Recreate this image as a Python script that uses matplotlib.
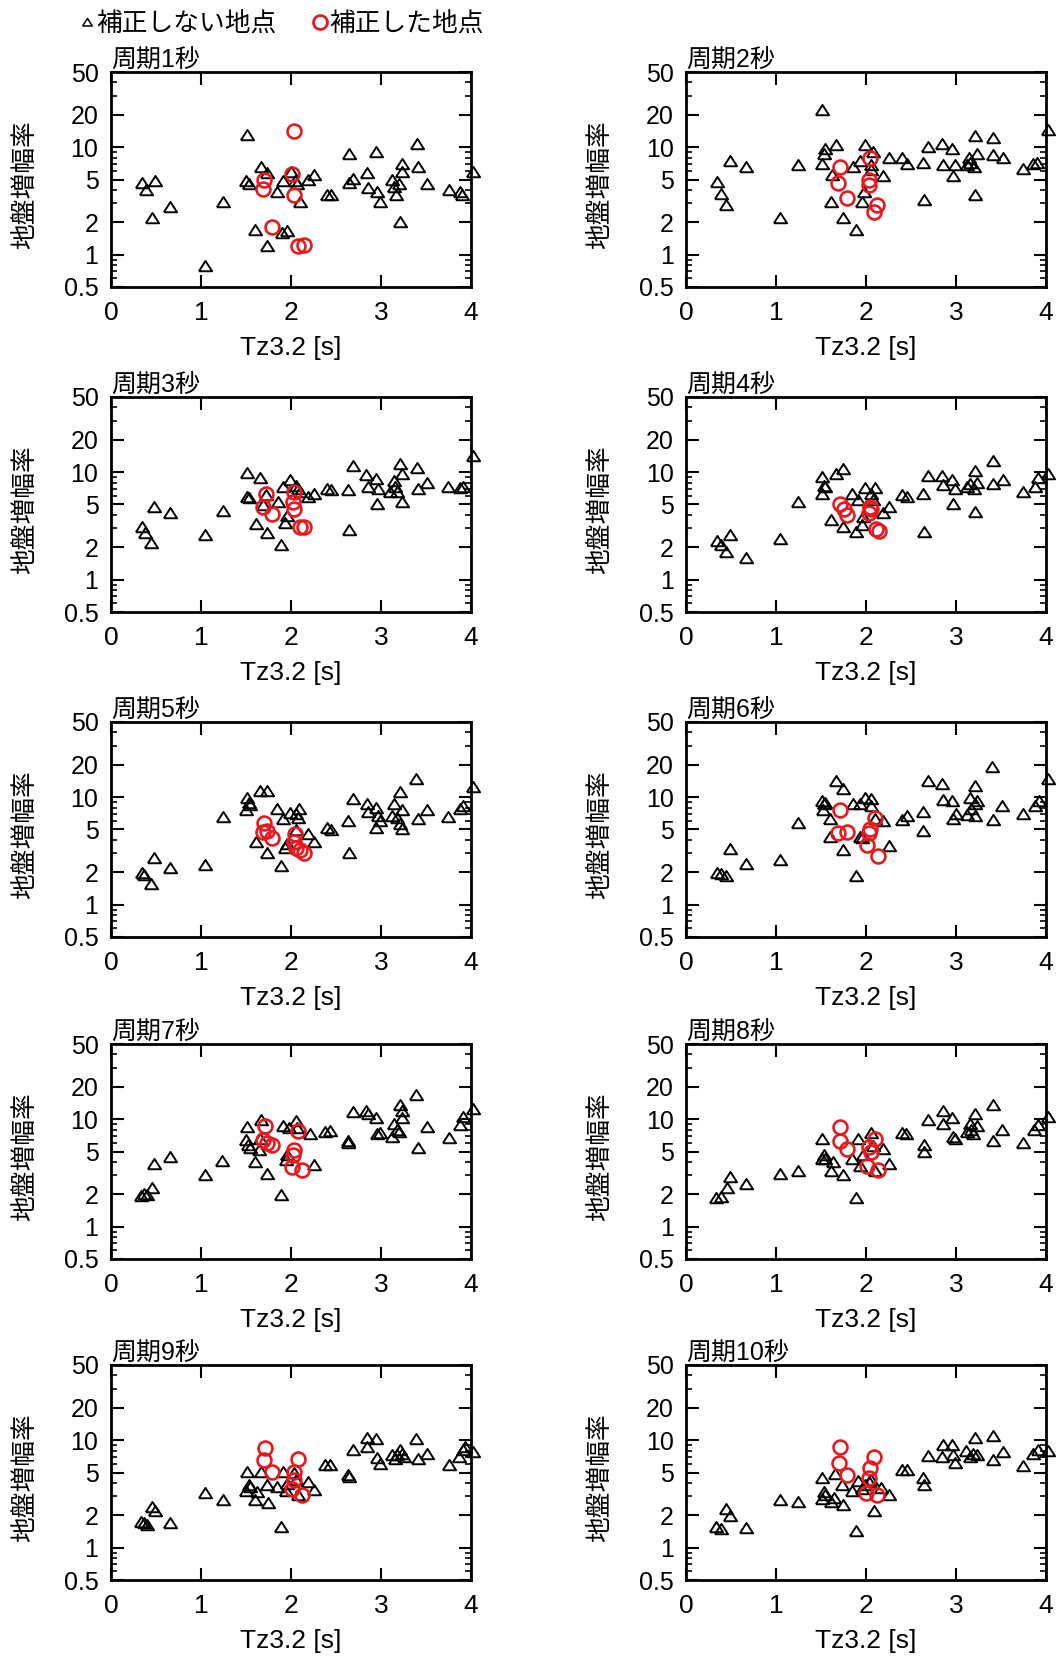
import numpy as np
import matplotlib
matplotlib.use('Agg')
import matplotlib.pyplot as plt
from matplotlib.lines import Line2D
from matplotlib.ticker import LogLocator, NullFormatter, NullLocator

plt.rcParams['font.family'] = ['Liberation Sans', 'Noto Sans CJK JP']

# (Tz3.2, amplification) for uncorrected sites (tri) and corrected sites (cir)
p1_tri = [(0.34, 4.6), (0.39, 4.0), (0.49, 4.8), (0.45, 2.2), (0.66, 2.8), (1.04, 0.78), (1.24, 3.1),
          (1.51, 13.0), (1.50, 4.8), (1.53, 4.5), (1.60, 1.7), (1.67, 6.6), (1.73, 5.7), (1.73, 1.2),
          (1.84, 3.8), (1.91, 4.8), (1.90, 1.6), (1.95, 1.65), (2.00, 5.9), (2.04, 4.8), (2.07, 4.5),
          (2.10, 3.1), (2.19, 4.9), (2.25, 5.5), (2.40, 3.6), (2.44, 3.6), (2.64, 8.6), (2.64, 4.6),
          (2.69, 5.1), (2.84, 5.7), (2.86, 4.2), (2.94, 9.0), (2.96, 3.8), (2.99, 3.1), (3.12, 4.9),
          (3.14, 4.3), (3.17, 3.6), (3.20, 4.5), (3.23, 7.0), (3.23, 5.9), (3.21, 2.0), (3.40, 10.6),
          (3.41, 6.6), (3.51, 4.5), (3.75, 4.0), (3.88, 3.8), (3.90, 3.6), (4.02, 5.9)]
p1_cir = [(2.03, 14.1), (1.70, 4.9), (1.69, 4.1), (2.01, 5.6), (2.03, 3.6), (1.79, 1.8), (2.08, 1.2),
          (2.14, 1.23)]

p2_tri = [(0.34, 4.7), (0.39, 3.7), (0.44, 2.9), (0.49, 7.4), (0.67, 6.5), (1.04, 2.2), (1.24, 6.8),
          (1.51, 22.0), (1.54, 9.7), (1.53, 8.6), (1.51, 7.0), (1.62, 5.5), (1.61, 3.1), (1.67, 10.4),
          (1.74, 2.2), (1.86, 6.6), (1.89, 1.7), (1.93, 7.4), (1.99, 10.4), (1.95, 3.1), (1.98, 3.8),
          (2.06, 6.8), (2.08, 9.0), (2.06, 6.1), (2.19, 5.4), (2.25, 7.9), (2.40, 7.9), (2.45, 7.0),
          (2.63, 7.1), (2.64, 3.2), (2.69, 10.0), (2.84, 10.7), (2.86, 6.8), (2.95, 9.6), (2.97, 5.4),
          (2.99, 6.8), (3.12, 6.8), (3.14, 7.9), (3.16, 7.1), (3.20, 6.6), (3.21, 12.8), (3.23, 8.7),
          (3.21, 3.6), (3.41, 12.2), (3.41, 8.4), (3.52, 7.9), (3.74, 6.3), (3.86, 6.9), (3.90, 7.1),
          (4.02, 14.3)]
p2_cir = [(1.71, 6.6), (1.69, 4.6), (1.79, 3.4), (2.04, 7.9), (2.03, 4.9), (2.03, 4.4), (2.12, 2.9),
          (2.09, 2.5)]

p3_tri = [(0.34, 3.1), (0.38, 2.7), (0.44, 2.2), (0.48, 4.7), (0.66, 4.2), (1.04, 2.6), (1.24, 4.35),
          (1.51, 9.9), (1.51, 5.9), (1.53, 5.8), (1.66, 8.9), (1.72, 6.1), (1.61, 3.3), (1.73, 2.7),
          (1.69, 4.9), (1.85, 5.3), (1.89, 2.1), (1.91, 7.2), (1.99, 8.4), (1.93, 3.4), (1.96, 3.9),
          (2.06, 7.5), (2.08, 7.0), (2.10, 6.5), (2.19, 5.9), (2.25, 6.3), (2.40, 7.0), (2.44, 6.8),
          (2.63, 6.8), (2.64, 2.9), (2.69, 11.3), (2.83, 9.5), (2.86, 7.2), (2.94, 8.6), (2.97, 7.0),
          (2.95, 5.1), (3.10, 6.5), (3.14, 8.2), (3.16, 7.2), (3.18, 6.6), (3.21, 12.0), (3.23, 9.7),
          (3.23, 5.3), (3.40, 11.0), (3.41, 7.0), (3.51, 7.9), (3.74, 7.3), (3.88, 7.1), (3.91, 7.3),
          (4.02, 14.1)]
p3_cir = [(1.72, 6.3), (1.69, 4.7), (1.79, 4.1), (2.03, 6.5), (2.02, 5.3), (2.03, 4.5), (2.10, 3.1),
          (2.14, 3.1)]

p4_tri = [(0.34, 2.3), (0.39, 2.1), (0.44, 1.8), (0.49, 2.6), (0.67, 1.6), (1.04, 2.4), (1.24, 5.3),
          (1.51, 9.0), (1.53, 7.5), (1.54, 7.2), (1.51, 6.3), (1.61, 3.6), (1.67, 9.7), (1.74, 10.6),
          (1.74, 3.1), (1.84, 6.3), (1.89, 2.8), (1.91, 5.5), (1.99, 7.1), (1.95, 3.2), (1.97, 3.8),
          (2.06, 6.3), (2.10, 7.1), (2.08, 5.5), (2.19, 4.2), (2.25, 4.7), (2.40, 6.1), (2.45, 5.9),
          (2.63, 6.3), (2.64, 2.8), (2.69, 9.3), (2.84, 9.3), (2.86, 7.6), (2.95, 8.5), (2.97, 5.0),
          (2.99, 7.0), (3.12, 7.3), (3.16, 7.8), (3.20, 7.0), (3.21, 10.3), (3.23, 8.0), (3.21, 4.3),
          (3.41, 12.6), (3.41, 7.8), (3.52, 8.5), (3.74, 6.6), (3.88, 7.3), (3.91, 8.9), (4.02, 9.7)]
p4_cir = [(1.71, 5.0), (1.75, 4.5), (1.79, 4.0), (2.04, 4.7), (2.03, 4.2), (2.06, 4.5), (2.11, 2.96),
          (2.14, 2.85)]

p5_tri = [(0.34, 1.97), (0.37, 1.9), (0.44, 1.55), (0.48, 2.7), (0.66, 2.2), (1.04, 2.35), (1.24, 6.6),
          (1.51, 9.8), (1.53, 8.8), (1.54, 8.4), (1.50, 7.6), (1.66, 11.5), (1.73, 11.5), (1.61, 3.8),
          (1.73, 3.0), (1.84, 7.8), (1.89, 2.3), (1.91, 6.2), (1.99, 7.1), (1.96, 3.7), (1.93, 3.4),
          (2.06, 6.9), (2.08, 6.4), (2.09, 7.8), (2.06, 4.9), (2.19, 4.5), (2.25, 3.8), (2.40, 5.2),
          (2.44, 4.9), (2.63, 6.0), (2.64, 3.0), (2.69, 9.6), (2.84, 8.6), (2.86, 7.2), (2.94, 8.0),
          (2.97, 6.7), (2.94, 5.2), (2.99, 6.0), (3.12, 6.7), (3.14, 8.6), (3.18, 6.4), (3.21, 11.2),
          (3.23, 7.6), (3.21, 5.6), (3.23, 5.0), (3.39, 14.6), (3.41, 6.2), (3.51, 7.6), (3.74, 6.5),
          (3.88, 7.8), (3.91, 8.3), (4.02, 12.4)]
p5_cir = [(1.70, 5.8), (1.69, 4.7), (1.73, 4.85), (1.79, 4.2), (2.04, 4.5), (2.03, 3.8), (2.06, 3.4),
          (2.10, 3.2), (2.14, 3.0)]

p6_tri = [(0.34, 1.98), (0.39, 1.92), (0.44, 1.85), (0.49, 3.3), (0.67, 2.4), (1.04, 2.6), (1.24, 5.7),
          (1.51, 9.2), (1.53, 8.6), (1.54, 8.9), (1.52, 7.6), (1.60, 6.2), (1.60, 4.3), (1.67, 14.0),
          (1.74, 12.0), (1.74, 3.2), (1.86, 8.6), (1.89, 1.85), (1.93, 8.6), (1.99, 9.8), (2.06, 9.7),
          (2.06, 8.3), (1.93, 4.3), (1.95, 4.2), (2.10, 6.2), (2.19, 6.0), (2.25, 3.5), (2.40, 6.1),
          (2.45, 6.7), (2.63, 7.2), (2.63, 4.8), (2.69, 14.0), (2.84, 13.3), (2.86, 9.5), (2.95, 9.2),
          (2.97, 6.2), (3.00, 7.0), (3.12, 6.8), (3.15, 9.9), (3.17, 7.7), (3.21, 8.6), (3.21, 6.7),
          (3.21, 12.8), (3.23, 9.2), (3.40, 19.0), (3.41, 6.1), (3.51, 8.3), (3.74, 7.0), (3.88, 8.3),
          (3.92, 9.3), (4.02, 14.6)]
p6_cir = [(1.71, 7.6), (1.69, 4.6), (1.79, 4.7), (2.10, 6.4), (2.04, 5.1), (2.03, 4.6), (2.01, 3.6),
          (2.13, 2.85)]

p7_tri = [(0.33, 1.94), (0.37, 2.0), (0.40, 1.97), (0.45, 2.3), (0.48, 3.8), (0.66, 4.4), (1.04, 3.0),
          (1.23, 4.1), (1.51, 8.5), (1.50, 6.4), (1.52, 5.7), (1.54, 5.4), (1.60, 4.0), (1.67, 9.9),
          (1.66, 6.5), (1.73, 3.1), (1.64, 5.2), (1.89, 1.97), (1.91, 8.7), (1.98, 8.2), (1.96, 4.6),
          (1.94, 4.2), (2.06, 9.6), (2.07, 8.2), (2.21, 7.2), (2.25, 3.75), (2.38, 7.6), (2.43, 7.8),
          (2.63, 6.3), (2.63, 6.0), (2.69, 11.6), (2.83, 11.8), (2.86, 11.2), (2.94, 10.2), (2.96, 7.3),
          (2.99, 7.5), (3.12, 6.8), (3.14, 9.1), (3.18, 7.9), (3.20, 7.6), (3.21, 13.4), (3.23, 11.8),
          (3.23, 10.2), (3.39, 16.8), (3.41, 5.4), (3.51, 8.4), (3.75, 6.7), (3.88, 8.8), (3.91, 10.4),
          (4.02, 12.3)]
p7_cir = [(1.71, 8.7), (1.69, 6.4), (1.73, 6.0), (1.79, 5.8), (2.08, 7.8), (2.03, 5.2), (2.02, 4.6),
          (2.01, 3.6), (2.12, 3.37)]

p8_tri = [(0.33, 1.84), (0.39, 1.87), (0.45, 2.3), (0.49, 2.9), (0.67, 2.5), (1.04, 3.1), (1.24, 3.3),
          (1.51, 6.6), (1.51, 4.3), (1.53, 4.6), (1.54, 4.3), (1.63, 4.0), (1.61, 3.3), (1.74, 3.0),
          (1.89, 1.84), (1.84, 4.3), (1.91, 6.6), (1.93, 3.7), (1.97, 4.6), (2.06, 7.5), (2.08, 5.6),
          (2.10, 3.3), (2.19, 5.3), (2.25, 3.8), (2.40, 7.5), (2.44, 7.2), (2.64, 5.8), (2.64, 5.0),
          (2.69, 9.9), (2.85, 11.9), (2.86, 9.0), (2.95, 10.3), (2.97, 6.8), (2.99, 6.6), (3.12, 7.6),
          (3.15, 9.0), (3.17, 8.0), (3.19, 7.2), (3.21, 11.2), (3.23, 8.7), (3.41, 13.4), (3.41, 6.2),
          (3.51, 7.9), (3.74, 6.0), (3.87, 7.9), (3.91, 8.9), (4.02, 10.4)]
p8_cir = [(1.71, 8.4), (1.71, 6.3), (1.79, 5.3), (2.10, 6.6), (2.03, 5.5), (2.06, 4.9), (2.01, 3.7),
          (2.13, 3.4)]

p9_tri = [(0.33, 1.74), (0.37, 1.68), (0.40, 1.62), (0.45, 2.4), (0.49, 2.2), (0.66, 1.68), (1.04, 3.2),
          (1.24, 2.8), (1.51, 5.1), (1.50, 3.4), (1.53, 3.8), (1.54, 3.7), (1.62, 3.3), (1.60, 2.75),
          (1.67, 5.1), (1.73, 3.8), (1.74, 2.6), (1.84, 3.7), (1.89, 1.57), (1.91, 5.1), (1.95, 3.9),
          (1.94, 3.4), (2.03, 4.9), (2.06, 4.3), (2.08, 3.1), (2.19, 4.1), (2.25, 3.45), (2.38, 5.9),
          (2.43, 5.9), (2.63, 4.7), (2.64, 4.5), (2.69, 8.1), (2.84, 10.4), (2.84, 8.7), (2.94, 10.2),
          (2.95, 6.8), (2.99, 6.0), (3.12, 7.2), (3.16, 6.7), (3.18, 7.2), (3.21, 8.1), (3.23, 7.5),
          (3.25, 7.0), (3.39, 10.2), (3.41, 6.7), (3.51, 7.5), (3.75, 5.9), (3.87, 7.0), (3.91, 8.1),
          (3.93, 8.6), (4.02, 7.8)]
p9_cir = [(1.71, 8.5), (1.70, 6.6), (1.79, 5.1), (2.08, 6.7), (2.03, 5.1), (2.03, 4.3), (2.01, 3.5),
          (2.12, 3.1)]

p10_tri = [(0.33, 1.56), (0.39, 1.49), (0.44, 2.3), (0.49, 1.97), (0.67, 1.52), (1.04, 2.8), (1.24, 2.65),
           (1.51, 4.4), (1.53, 3.3), (1.54, 3.1), (1.51, 2.85), (1.61, 2.65), (1.64, 2.9), (1.66, 4.8),
           (1.74, 2.5), (1.73, 3.8), (1.89, 1.43), (1.84, 3.4), (1.91, 4.15), (1.95, 3.5), (1.99, 3.8),
           (2.03, 4.1), (2.06, 4.25), (2.09, 2.2), (2.17, 3.6), (2.25, 3.1), (2.40, 5.3), (2.45, 5.3),
           (2.63, 4.4), (2.64, 3.8), (2.69, 7.1), (2.84, 6.9), (2.85, 9.1), (2.95, 9.0), (2.97, 7.2),
           (2.99, 6.1), (3.11, 7.9), (3.15, 6.9), (3.19, 7.5), (3.23, 7.2), (3.21, 10.5), (3.41, 10.9),
           (3.41, 6.6), (3.52, 7.7), (3.74, 5.8), (3.86, 7.5), (3.91, 8.1), (4.02, 7.9)]
p10_cir = [(1.71, 8.7), (1.70, 6.1), (1.79, 4.7), (2.09, 7.0), (2.04, 5.5), (2.03, 4.4), (2.00, 3.2),
           (2.12, 3.1)]

periods = [1, 2, 3, 4, 5, 6, 7, 8, 9, 10]
tri_data = [p1_tri, p2_tri, p3_tri, p4_tri, p5_tri, p6_tri, p7_tri, p8_tri, p9_tri, p10_tri]
cir_data = [p1_cir, p2_cir, p3_cir, p4_cir, p5_cir, p6_cir, p7_cir, p8_cir, p9_cir, p10_cir]

x_ticks = [0, 1, 2, 3, 4]
y_ticks = [0.5, 1, 2, 5, 10, 20, 50]
y_labels = ['0.5', '1', '2', '5', '10', '20', '50']

red = '#e8191e'
# slightly flattened open triangle
tri_marker = [(-1, -0.72), (1, -0.72), (0, 0.84), (-1, -0.72)]

W, H = 1057, 1666
fig = plt.figure(figsize=(W / 100, H / 100), dpi=100)

col_left = [111, 686]
row_top = [72, 397, 722, 1044, 1365]
ax_w, ax_h = 360, 215

for i, p in enumerate(periods):
    r, c = divmod(i, 2)
    ax = fig.add_axes([col_left[c] / W, 1 - (row_top[r] + ax_h) / H, ax_w / W, ax_h / H])

    tri = np.array(tri_data[i])
    cir = np.array(cir_data[i])
    ax.plot(tri[:, 0], tri[:, 1], ls='none', marker=tri_marker, ms=9.5, mfc='none',
            mec='black', mew=1.4, clip_on=False, zorder=3)
    ax.plot(cir[:, 0], cir[:, 1], ls='none', marker='o', ms=10, mfc='none',
            mec=red, mew=1.9, clip_on=False, zorder=4)

    ax.set_yscale('log')
    ax.set_xlim(0, 4)
    ax.set_ylim(0.5, 50)
    ax.set_xticks(x_ticks, labels=[str(t) for t in x_ticks])
    ax.set_yticks(y_ticks, labels=y_labels)
    ax.yaxis.set_minor_locator(LogLocator(base=10, subs=np.arange(2, 10), numticks=20))
    ax.yaxis.set_minor_formatter(NullFormatter())
    ax.xaxis.set_minor_locator(NullLocator())

    ax.tick_params(which='both', direction='in', top=True, right=True)
    ax.tick_params(which='major', length=9, width=1.5)
    ax.tick_params(which='minor', length=4.5, width=1.2)
    ax.tick_params(axis='x', which='major', labelsize=19, pad=10)
    ax.tick_params(axis='y', which='major', labelsize=18, pad=9)
    for sp in ax.spines.values():
        sp.set_linewidth(2)

    ax.set_title(f'周期{p}秒', loc='left', fontsize=18, pad=1)
    ax.set_ylabel('地盤増幅率', fontsize=18.5, va='center')
    ax.yaxis.set_label_coords(-86 / ax_w, 0.5 - 5 / ax_h)
    ax.set_xlabel('Tz3.2 [s]', fontsize=19)
    ax.xaxis.set_label_coords(0.5, -49 / ax_h)

handles = [
    Line2D([], [], ls='none', marker=tri_marker, ms=7, mfc='none', mec='black', mew=1.1),
    Line2D([], [], ls='none', marker='o', ms=10, mfc='none', mec=red, mew=2.0),
]
fig.legend(handles, ['補正しない地点', '補正した地点'], loc='center left',
           bbox_to_anchor=(80 / W, 1 - 24 / H), ncol=2, frameon=False, fontsize=18.5,
           handlelength=0.55, handletextpad=0.1, columnspacing=1.4,
           borderpad=0, borderaxespad=0)

fig.savefig('out.png', dpi=100)
